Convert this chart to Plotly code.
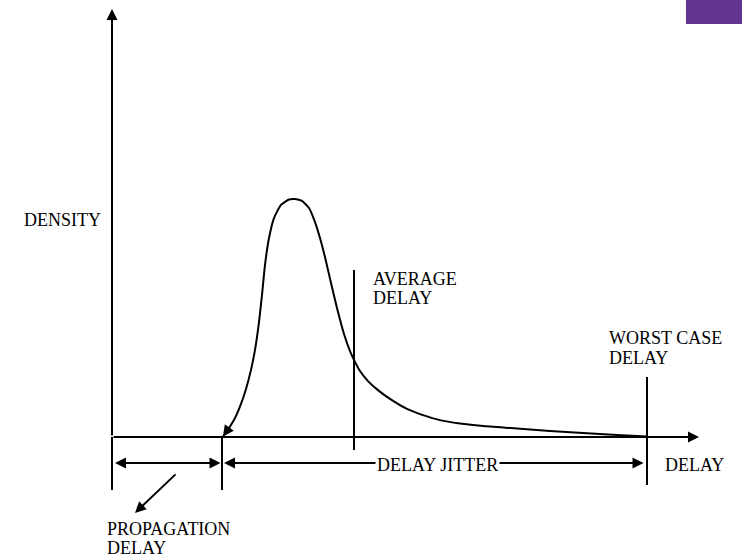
import plotly.graph_objects as go

# ---- data (delay units, density normalised to peak = 1) ----
delay = [11.1, 11.7, 12.3, 12.9, 13.4, 13.9, 14.3, 14.7, 15.0, 15.3, 15.7, 16.2,
         16.9, 17.7, 18.3, 19.0, 19.7, 20.3, 20.8, 21.3, 21.9, 22.5, 23.2, 23.8,
         24.2, 24.8, 25.6, 26.6, 27.8, 29.5, 31.1, 32.8, 34.8, 37.1, 40.5, 43.8,
         47.1, 50.5, 53.5]
density = [0.002, 0.038, 0.080, 0.139, 0.202, 0.282, 0.366, 0.483, 0.597, 0.723,
           0.836, 0.920, 0.975, 0.998, 1.000, 0.992, 0.962, 0.903, 0.836, 0.756,
           0.647, 0.542, 0.433, 0.361, 0.324, 0.277, 0.235, 0.197, 0.160, 0.118,
           0.092, 0.071, 0.057, 0.046, 0.036, 0.025, 0.017, 0.008, 0.002]

prop_delay = 11.0
avg_delay = 24.2
worst_delay = 53.5
axis_end = 58.7
y_axis_top = 1.798

labels = {
    "density": "DENSITY",
    "avg": ["AVERAGE", "DELAY"],
    "worst": ["WORST CASE", "DELAY"],
    "xlabel": "DELAY",
    "jitter": "DELAY JITTER",
    "prop": ["PROPAGATION", "DELAY"],
}

FONT = dict(family="Liberation Serif, Times New Roman, serif", size=18, color="black")
LW = 2
dim_y = -0.109
tick_bottom = -0.223

fig = go.Figure()
fig.add_trace(go.Scatter(x=delay, y=density, mode="lines",
                         line=dict(color="black", width=2, shape="spline", smoothing=0.5),
                         hoverinfo="skip", showlegend=False))

shapes = []
def vline(x, y0, y1):
    shapes.append(dict(type="line", xref="x", yref="y", x0=x, x1=x, y0=y0, y1=y1,
                       line=dict(color="black", width=LW)))

vline(0, tick_bottom, 0.0)            # lower part of y axis
vline(prop_delay, tick_bottom, 0.0)   # propagation delay tick
vline(avg_delay, -0.055, 0.702)       # average delay marker
vline(worst_delay, -0.202, 0.252)     # worst case marker
shapes.append(dict(type="rect", xref="paper", yref="paper", x0=0.9245, x1=1.0,
                   y0=0.957, y1=1.0, fillcolor="#61358f", line=dict(width=0)))

anns = []
def arrow(x, y, ax, ay, side="end"):
    anns.append(dict(x=x, y=y, ax=ax, ay=ay, xref="x", yref="y", axref="x", ayref="y",
                     text="", showarrow=True, arrowhead=2, startarrowhead=2,
                     arrowside=side, arrowsize=1.1, arrowwidth=LW, arrowcolor="black",
                     standoff=0, startstandoff=0))

arrow(0, y_axis_top, 0, 0)                    # y axis
arrow(axis_end, 0, 0, 0)                      # x axis
arrow(delay[0], density[0], delay[1], density[1])  # curve start arrow
arrow(0.3, dim_y, prop_delay, dim_y, "end+start")  # propagation dimension
arrow(prop_delay + 0.2, dim_y, worst_delay - 0.2, dim_y, "end+start")  # jitter dimension
arrow(2.3, -0.319, 6.5, -0.151)               # pointer to propagation label

def text(t, x, y, xanchor="left", bg=None):
    d = dict(x=x, y=y, xref="x", yref="y", text=t, showarrow=False,
             xanchor=xanchor, yanchor="middle", font=FONT)
    if bg:
        d["bgcolor"] = bg
        d["borderpad"] = 1
    anns.append(d)

text(labels["density"], -9.0, 0.912)
text(labels["avg"][0], avg_delay + 1.7, 0.664)
text(labels["avg"][1], avg_delay + 1.7, 0.584)
text(labels["worst"][0], worst_delay - 4.0, 0.416)
text(labels["worst"][1], worst_delay - 4.0, 0.332)
text(labels["xlabel"], worst_delay + 1.6, -0.118)
text(labels["jitter"], 32.5, -0.118, xanchor="center", bg="white")
text(labels["prop"][0], -0.7, -0.387)
text(labels["prop"][1], -0.7, -0.466)

fig.update_layout(
    width=742, height=557, margin=dict(l=0, r=0, t=0, b=0),
    paper_bgcolor="white", plot_bgcolor="white",
    xaxis=dict(range=[-11.2, 63.0], visible=False, fixedrange=True),
    yaxis=dict(range=[-0.5042, 1.8361], visible=False, fixedrange=True),
    shapes=shapes, annotations=anns, showlegend=False,
)
fig.write_html("out.html", config={"displayModeBar": False},
               post_script="document.body.style.margin='0px';")
